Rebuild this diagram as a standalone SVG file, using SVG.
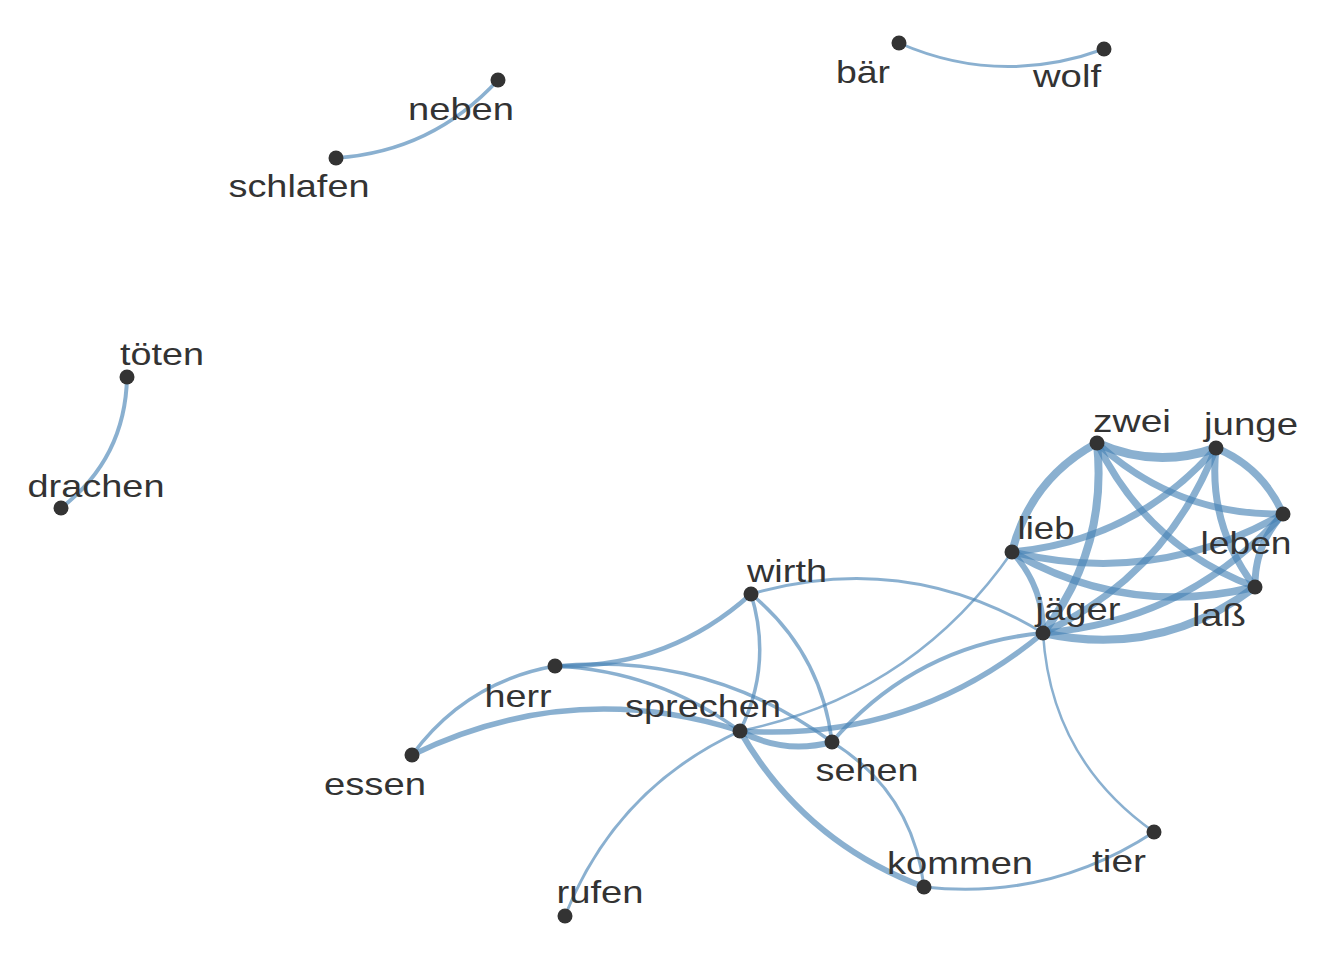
<svg xmlns="http://www.w3.org/2000/svg" width="1344" height="960" viewBox="0 0 1344 960">
<style>
.e{fill:none;stroke:#4682b4;stroke-opacity:0.63;stroke-linecap:round}
.n circle{fill:#333333}
.n text{font-family:"Liberation Sans",Arial,sans-serif;font-size:32px;fill:#333333;text-anchor:middle}
</style>
<rect width="1344" height="960" fill="#ffffff"/>
<g id="edges">
<path class="e" stroke-width="3" d="M899,43 Q999.8,87 1104,49"/>
<path class="e" stroke-width="3.5" d="M336,158 Q432.6,151.4 498,80"/>
<path class="e" stroke-width="4" d="M127,377 Q125.4,458.3 61,508"/>
<path class="e" stroke-width="9" d="M1097,443 Q1155.5,469.3 1216,448"/>
<path class="e" stroke-width="8" d="M1097,443 Q1030.5,478.8 1012,552"/>
<path class="e" stroke-width="8" d="M1097,443 Q1108,548.8 1043,633"/>
<path class="e" stroke-width="7" d="M1097,443 Q1175.8,515.7 1283,514"/>
<path class="e" stroke-width="7" d="M1097,443 Q1147.2,546.6 1255,587"/>
<path class="e" stroke-width="7" d="M1216,448 Q1134.8,540.8 1012,552"/>
<path class="e" stroke-width="7" d="M1216,448 Q1166.5,575.1 1043,633"/>
<path class="e" stroke-width="7.5" d="M1216,448 Q1262.7,467.6 1283,514"/>
<path class="e" stroke-width="7" d="M1216,448 Q1207.7,525.3 1255,587"/>
<path class="e" stroke-width="7" d="M1012,552 Q1155.1,587.2 1283,514"/>
<path class="e" stroke-width="7.5" d="M1012,552 Q1126.5,618.1 1255,587"/>
<path class="e" stroke-width="6" d="M1012,552 Q1043.7,586.3 1043,633"/>
<path class="e" stroke-width="7" d="M1283,514 Q1186.8,621.5 1043,633"/>
<path class="e" stroke-width="7" d="M1283,514 Q1254.4,544.9 1255,587"/>
<path class="e" stroke-width="8" d="M1255,587 Q1159.6,658.8 1043,633"/>
<path class="e" stroke-width="2.5" d="M1012,552 Q911.8,695.9 740,731"/>
<path class="e" stroke-width="5.5" d="M1043,633 Q911.1,742.6 740,731"/>
<path class="e" stroke-width="4" d="M1043,633 Q915.7,645.3 832,742"/>
<path class="e" stroke-width="2.5" d="M1043,633 Q1050.7,759.1 1154,832"/>
<path class="e" stroke-width="3" d="M751,594 Q905.6,549.3 1043,633"/>
<path class="e" stroke-width="4.5" d="M751,594 Q667.4,669.2 555,666"/>
<path class="e" stroke-width="3.5" d="M751,594 Q772.9,664.7 740,731"/>
<path class="e" stroke-width="3.5" d="M751,594 Q821.1,651.8 832,742"/>
<path class="e" stroke-width="3.5" d="M555,666 Q465.7,681.9 412,755"/>
<path class="e" stroke-width="5.5" d="M412,755 Q571.2,677.4 740,731"/>
<path class="e" stroke-width="3.5" d="M555,666 Q657.3,670.8 740,731"/>
<path class="e" stroke-width="3.5" d="M555,666 Q707.9,651.4 832,742"/>
<path class="e" stroke-width="3" d="M832,742 Q912.8,792.4 924,887"/>
<path class="e" stroke-width="6" d="M740,731 Q783.8,754.9 832,742"/>
<path class="e" stroke-width="6" d="M740,731 Q803.9,842.1 924,887"/>
<path class="e" stroke-width="3" d="M740,731 Q615.5,788.5 565,916"/>
<path class="e" stroke-width="3" d="M924,887 Q1048.9,900.9 1154,832"/>
</g>
<g id="nodes" class="n">
<g id="baer"><circle cx="899" cy="43" r="7.5"/><text x="863" y="83" textLength="54" lengthAdjust="spacingAndGlyphs">bär</text></g>
<g id="wolf"><circle cx="1104" cy="49" r="7.5"/><text x="1067" y="87" textLength="68" lengthAdjust="spacingAndGlyphs">wolf</text></g>
<g id="neben"><circle cx="498" cy="80" r="7.5"/><text x="461" y="120" textLength="106" lengthAdjust="spacingAndGlyphs">neben</text></g>
<g id="schlafen"><circle cx="336" cy="158" r="7.5"/><text x="299" y="197" textLength="141" lengthAdjust="spacingAndGlyphs">schlafen</text></g>
<g id="toeten"><circle cx="127" cy="377" r="7.5"/><text x="162" y="365" textLength="84" lengthAdjust="spacingAndGlyphs">töten</text></g>
<g id="drachen"><circle cx="61" cy="508" r="7.5"/><text x="96" y="497" textLength="137" lengthAdjust="spacingAndGlyphs">drachen</text></g>
<g id="zwei"><circle cx="1097" cy="443" r="7.5"/><text x="1132" y="432" textLength="78" lengthAdjust="spacingAndGlyphs">zwei</text></g>
<g id="junge"><circle cx="1216" cy="448" r="7.5"/><text x="1251" y="435" textLength="94" lengthAdjust="spacingAndGlyphs">junge</text></g>
<g id="leben"><circle cx="1283" cy="514" r="7.5"/><text x="1246" y="554" textLength="91" lengthAdjust="spacingAndGlyphs">leben</text></g>
<g id="lieb"><circle cx="1012" cy="552" r="7.5"/><text x="1046" y="539" textLength="57" lengthAdjust="spacingAndGlyphs">lieb</text></g>
<g id="lass"><circle cx="1255" cy="587" r="7.5"/><text x="1219" y="626" textLength="54" lengthAdjust="spacingAndGlyphs">laß</text></g>
<g id="jaeger"><circle cx="1043" cy="633" r="7.5"/><text x="1078" y="620" textLength="85" lengthAdjust="spacingAndGlyphs">jäger</text></g>
<g id="wirth"><circle cx="751" cy="594" r="7.5"/><text x="787" y="582" textLength="80" lengthAdjust="spacingAndGlyphs">wirth</text></g>
<g id="herr"><circle cx="555" cy="666" r="7.5"/><text x="518" y="707" textLength="67" lengthAdjust="spacingAndGlyphs">herr</text></g>
<g id="sprechen"><circle cx="740" cy="731" r="7.5"/><text x="703" y="717" textLength="156" lengthAdjust="spacingAndGlyphs">sprechen</text></g>
<g id="sehen"><circle cx="832" cy="742" r="7.5"/><text x="867" y="781" textLength="103" lengthAdjust="spacingAndGlyphs">sehen</text></g>
<g id="essen"><circle cx="412" cy="755" r="7.5"/><text x="375" y="795" textLength="102" lengthAdjust="spacingAndGlyphs">essen</text></g>
<g id="kommen"><circle cx="924" cy="887" r="7.5"/><text x="960" y="874" textLength="146" lengthAdjust="spacingAndGlyphs">kommen</text></g>
<g id="tier"><circle cx="1154" cy="832" r="7.5"/><text x="1119" y="872" textLength="54" lengthAdjust="spacingAndGlyphs">tier</text></g>
<g id="rufen"><circle cx="565" cy="916" r="7.5"/><text x="600" y="903" textLength="87" lengthAdjust="spacingAndGlyphs">rufen</text></g>
</g>
</svg>
